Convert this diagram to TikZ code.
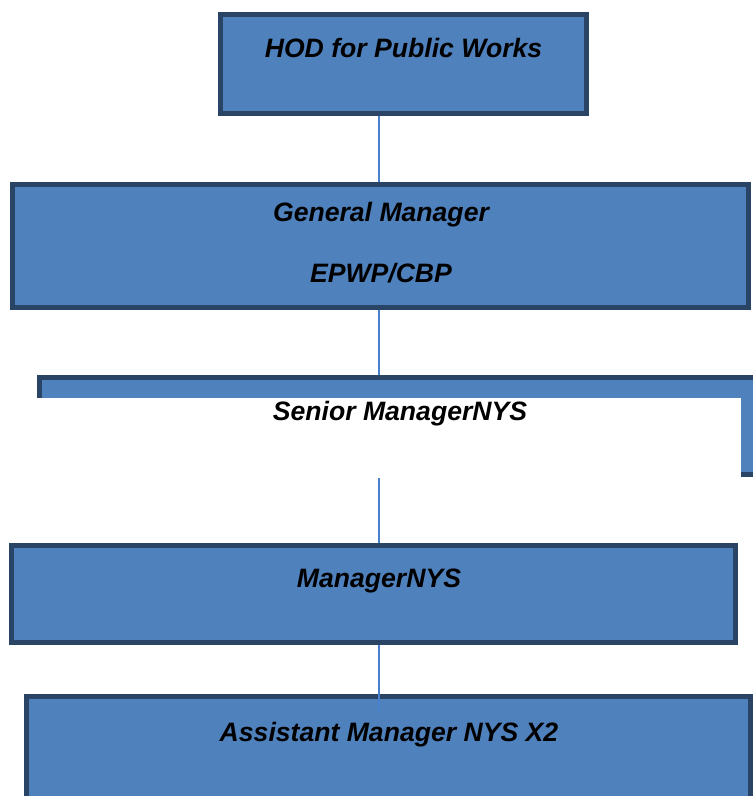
\documentclass[tikz,border=0pt]{standalone}
\usepackage{fontspec}
\setmainfont{Liberation Sans}
\definecolor{boxfill}{HTML}{4F81BD}
\definecolor{boxedge}{HTML}{2A4466}
\definecolor{linkblue}{HTML}{4780CC}
\begin{document}
\begin{tikzpicture}[x=1pt,y=-1pt,
  orgbox/.style={rectangle,draw=boxedge,fill=boxfill,line width=5pt,inner sep=0pt},
  lbl/.style={anchor=base,inner sep=0pt,font=\fontsize{26.6}{32}\selectfont\bfseries\itshape,text=black},
  link/.style={draw=linkblue,line width=1.6pt}]
\useasboundingbox (0,0) rectangle (753,796);
\fill[white] (0,0) rectangle (753,796);
\coordinate (spine) at (379,0);
% boxes
\node[orgbox,minimum width=366pt,minimum height=99pt] (hod) at (403.5,64) {};
\node[orgbox,minimum width=736pt,minimum height=123pt] (gm) at (380.5,246) {};
\node[orgbox,minimum width=723pt,minimum height=97pt] (sen) at (401,426) {};
\fill[white] (0,398) rectangle (741,481);
\node[orgbox,minimum width=724pt,minimum height=97pt] (mgr) at (373.5,594) {};
\node[orgbox,minimum width=724pt,minimum height=125pt] (asst) at (388.5,759) {};
% labels
\node[lbl] (thod) at (403.5,57) {HOD for Public Works};
\node[lbl] (tgm1) at (381,221) {General Manager};
\node[lbl] (tgm2) at (381,282) {EPWP/CBP};
\node[lbl] (tsen) at (400,420) {Senior ManagerNYS};
\node[lbl] (tmgr) at (379,587) {ManagerNYS};
\node[lbl] (tasst) at (389,741) {Assistant Manager NYS X2};
% connectors
\draw[link] (hod.south -| spine) -- (gm.north -| spine);
\draw[link] (gm.south -| spine) -- (sen.north -| spine);
\draw[link] ([yshift=-1pt]sen.south -| spine) -- (mgr.north -| spine);
\draw[link] (mgr.south -| spine) -- ([yshift=-17pt]asst.north -| spine);
\end{tikzpicture}
\end{document}
